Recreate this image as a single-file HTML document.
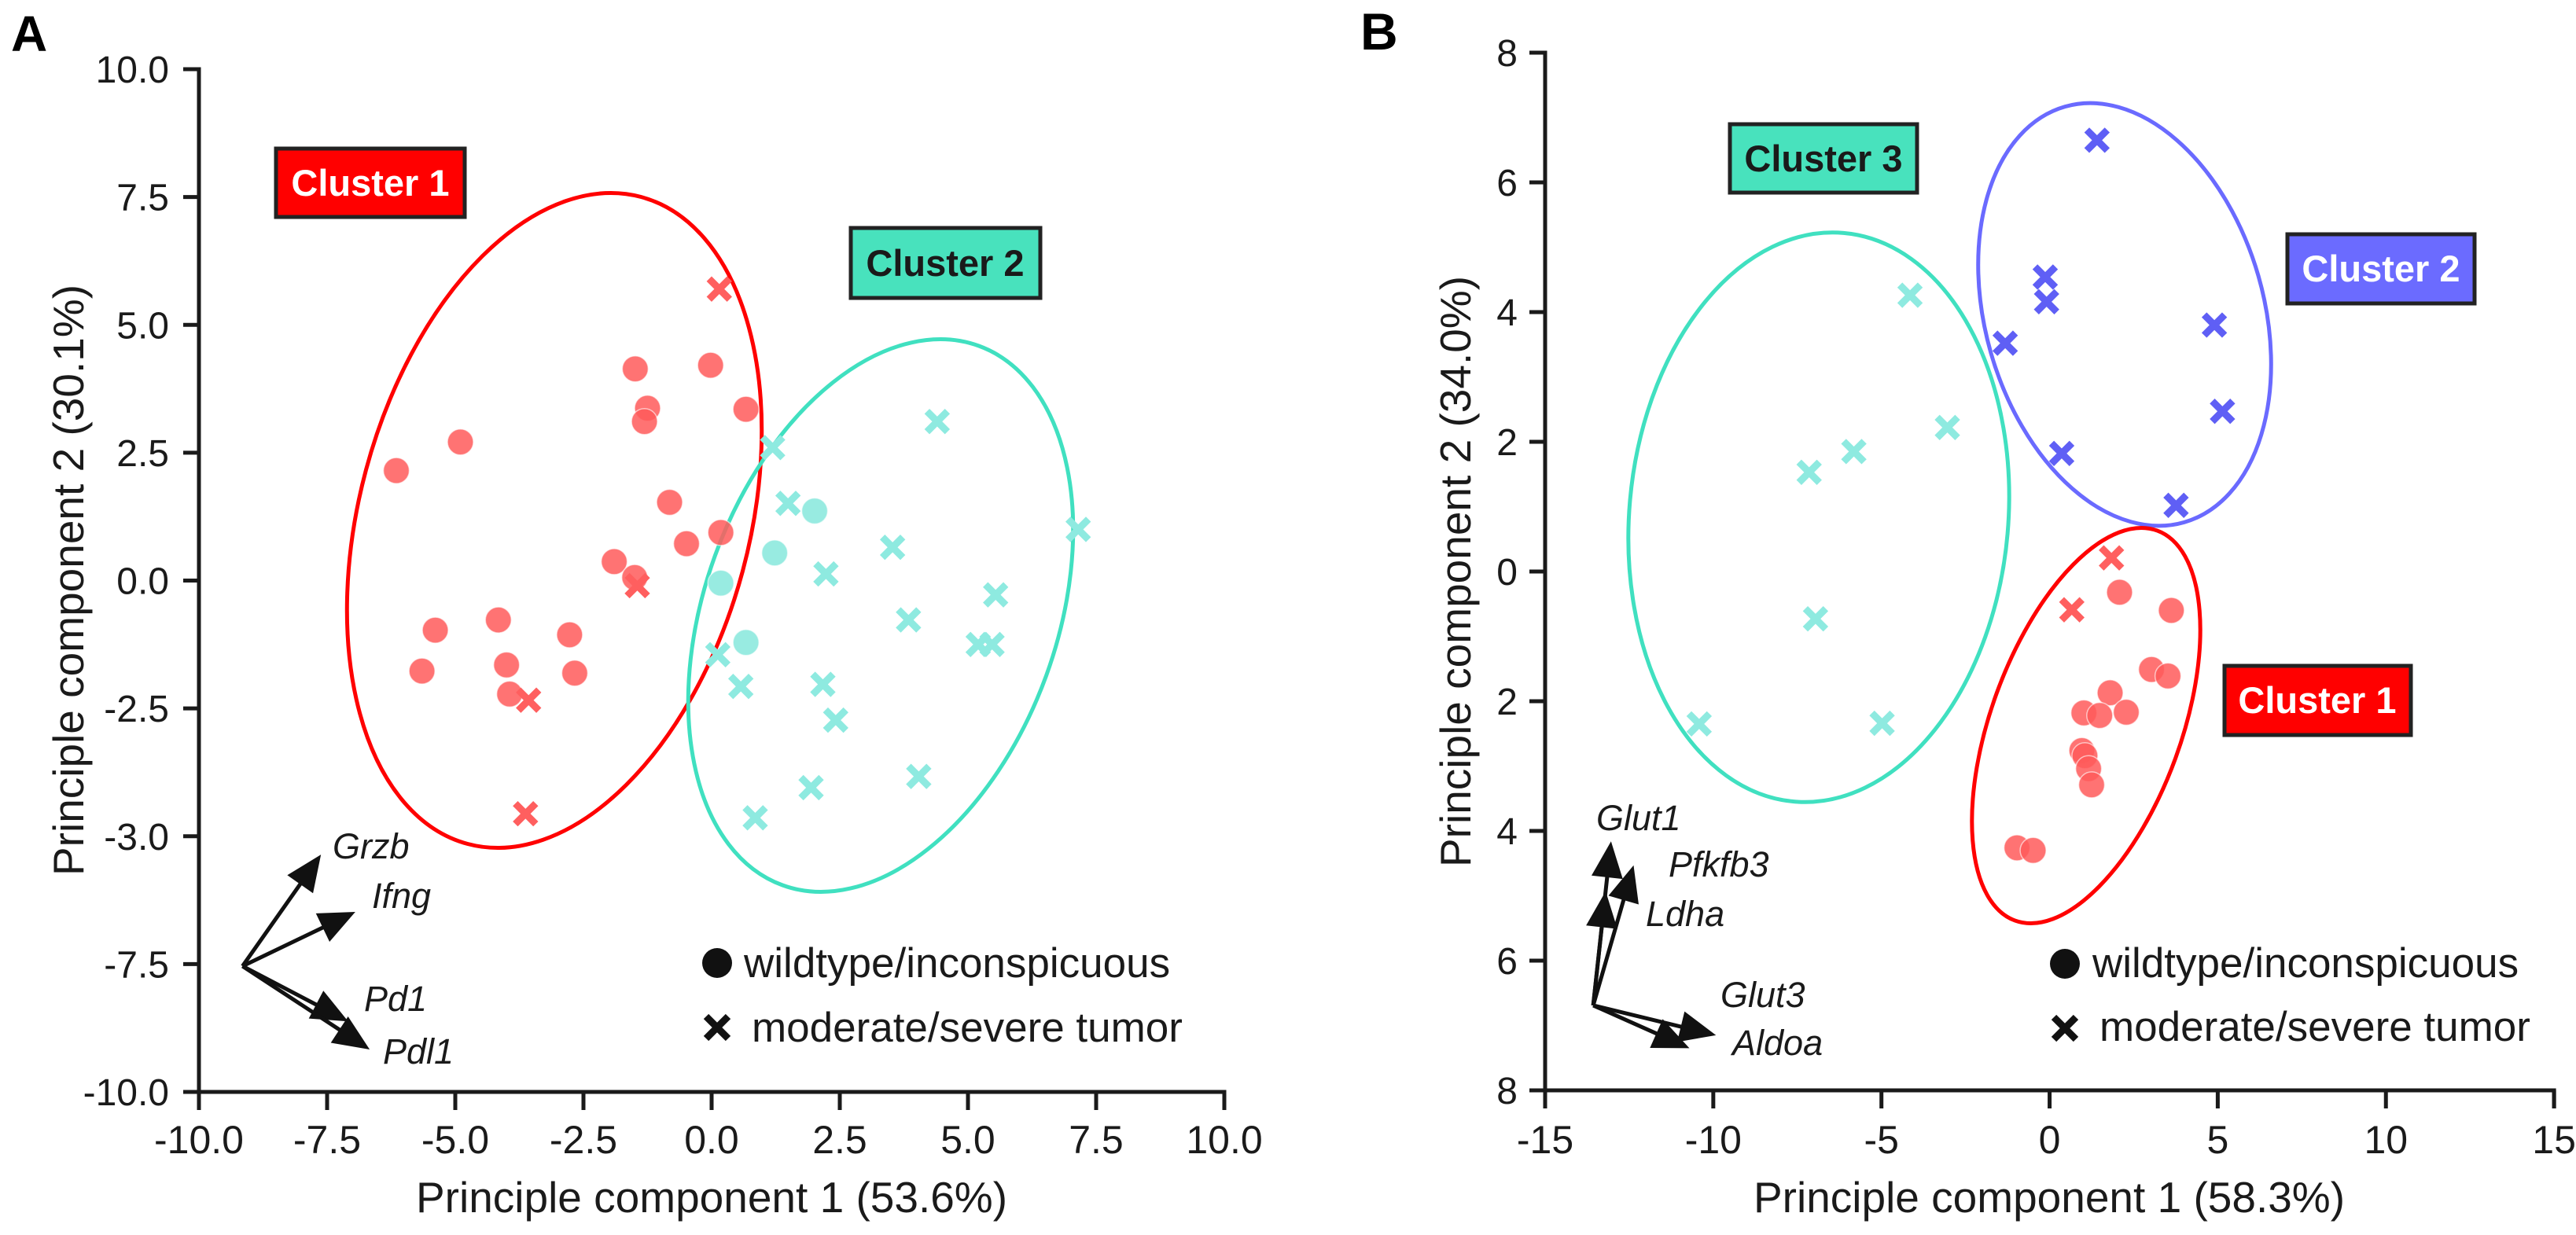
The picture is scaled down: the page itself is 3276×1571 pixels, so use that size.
<!DOCTYPE html>
<html><head><meta charset="utf-8"><style>
html,body{margin:0;padding:0;background:#fff;}
svg{display:block;font-family:"Liberation Sans",Arial,sans-serif;}
</style></head><body>
<svg id="fig" width="3276" height="1571" viewBox="0 0 3276 1571" xmlns="http://www.w3.org/2000/svg">
<g id="panelA"></g>
<g id="panelB"></g>
</svg>
<script>
// ---------- Panel A data ----------
const aXTicks = [-10, -7.5, -5, -2.5, 0, 2.5, 5, 7.5, 10];
const aXTickLabels = ["-10.0","-7.5","-5.0","-2.5","0.0","2.5","5.0","7.5","10.0"];
const aYTicks = [10, 7.5, 5, 2.5, 0, -2.5, -5, -7.5, -10];
const aYTickLabels = ["10.0","7.5","5.0","2.5","0.0","-2.5","-3.0","-7.5","-10.0"];
const aRedCircleX = [-6.15,-4.9,-1.9,-1.49,-0.02,-1.25,-1.31,0.67,-0.82,-0.49,0.18,-5.39,-4.16,-2.77,-5.65,-4.0,-2.67,-3.94,-1.5];
const aRedCircleY = [2.15,2.71,0.37,4.14,4.21,3.37,3.11,3.35,1.53,0.72,0.94,-0.97,-0.77,-1.06,-1.77,-1.65,-1.81,-2.22,0.06];
const aRedCrossX = [0.15,-1.45,-3.57,-3.63];
const aRedCrossY = [5.70,-0.10,-2.34,-4.56];
const aCyanCircleX = [2.01,1.23,0.18,0.67];
const aCyanCircleY = [1.36,0.54,-0.05,-1.21];
const aCyanCrossX = [1.19,4.40,1.49,3.53,7.15,2.23,5.54,3.84,0.12,5.2,5.47,0.57,2.17,2.42,4.04,1.94,0.85];
const aCyanCrossY = [2.60,3.11,1.51,0.65,1.0,0.13,-0.28,-0.77,-1.45,-1.25,-1.25,-2.07,-2.03,-2.73,-3.83,-4.05,-4.64];
const aArrowOrigin = [-9.15,-7.54];
const aArrowNames = ["Grzb","Ifng","Pd1","Pdl1"];
const aArrowTipX = [-7.62,-6.95,-7.09,-6.67];
const aArrowTipY = [-5.36,-6.48,-8.62,-9.17];

// ---------- Panel B data ----------
const bXTicks = [-15,-10,-5,0,5,10,15];
const bXTickLabels = ["-15","-10","-5","0","5","10","15"];
const bYTicks = [8,6,4,2,0,-2,-4,-6,-8];
const bYTickLabels = ["8","6","4","2","0","2","4","6","8"];
const bBlueCrossX = [1.41,-0.13,-0.09,-1.32,4.9,5.14,0.36,3.76];
const bBlueCrossY = [6.65,4.54,4.16,3.52,3.80,2.47,1.82,1.02];
const bCyanCrossX = [-4.15,-3.04,-5.82,-7.15,-6.96,-10.42,-4.98];
const bCyanCrossY = [4.26,2.22,1.85,1.53,-0.73,-2.35,-2.34];
const bRedCrossX = [1.84,0.66];
const bRedCrossY = [0.21,-0.59];
const bRedCircleX = [2.08,3.62,3.03,3.52,1.80,1.02,1.49,2.28,0.96,1.05,1.16,1.25,-0.97,-0.49];
const bRedCircleY = [-0.32,-0.60,-1.51,-1.61,-1.87,-2.18,-2.22,-2.17,-2.76,-2.84,-3.04,-3.29,-4.26,-4.30];
const bArrowOrigin = [-13.57,-6.69];
const bArrowNames = ["Glut1","Pfkfb3","Ldha","Glut3","Aldoa"];
const bArrowTipX = [-13.04,-12.37,-13.2,-9.92,-10.71];
const bArrowTipY = [-4.16,-4.53,-4.93,-7.15,-7.35];

const NS = "http://www.w3.org/2000/svg";
function mk(parent, tag, attrs, text) {
  const el = document.createElementNS(NS, tag);
  for (const k in attrs) el.setAttribute(k, attrs[k]);
  if (text !== undefined) el.textContent = text;
  parent.appendChild(el);
  return el;
}
const ax = x => 253 + (x + 10) * 65.2;
const ay = y => 88 + (10 - y) * 65.05;
const bx = x => 1965 + (x + 15) * 42.77;
const by = y => 67 + (8 - y) * 82.5;

function cross(g, cx, cy, color, s, w, name) {
  const grp = mk(g, "g", {});
  
  
  mk(grp, "line", {x1:cx-s,y1:cy-s,x2:cx+s,y2:cy+s,stroke:color,"stroke-width":w});
  mk(grp, "line", {x1:cx-s,y1:cy+s,x2:cx+s,y2:cy-s,stroke:color,"stroke-width":w});
}
function circle(g, cx, cy, color, name) {
  const c = mk(g, "circle", {cx:cx, cy:cy, r:16.5, fill:color, "fill-opacity":0.85, stroke:"#fff", "stroke-opacity":0.6, "stroke-width":1.5});
  
  
}
function arrow(g, ox, oy, tx, ty, name) {
  const dx = tx-ox, dy = ty-oy, len = Math.hypot(dx,dy);
  const ux = dx/len, uy = dy/len, L = 46, w = 20;
  const bxp = tx - L*ux, byp = ty - L*uy;
  const grp = mk(g, "g", {});
  
  
  mk(grp, "line", {x1:ox,y1:oy,x2:bxp+ux*4,y2:byp+uy*4,stroke:"#111","stroke-width":5});
  mk(grp, "polygon", {points:`${tx},${ty} ${bxp - w*uy},${byp + w*ux} ${bxp + w*uy},${byp - w*ux}`, fill:"#111"});
}
function axes(g, xs, ys, xt, xl, yt, yl, x0, x1, y0, y1, labRight) {
  mk(g, "path", {d:`M${xs(x0)-20},${ys(y1)} L${xs(x0)},${ys(y1)} L${xs(x0)},${ys(y0)} L${xs(x1)},${ys(y0)} L${xs(x1)},${ys(y0)+23}`, fill:"none", stroke:"#1a1a1a", "stroke-width":5});
  xt.forEach((v,i) => {
    const t = mk(g, "line", {x1:xs(v),y1:ys(y0),x2:xs(v),y2:ys(y0)+23,stroke:"#1a1a1a","stroke-width":5});
    
    
    const l = mk(g, "text", {x:xs(v), y:1467, "font-size":50, "text-anchor":"middle", fill:"#1a1a1a"}, xl[i]);
    
    
  });
  yt.forEach((v,i) => {
    const t = mk(g, "line", {x1:xs(x0)-20,y1:ys(v),x2:xs(x0),y2:ys(v),stroke:"#1a1a1a","stroke-width":5});
    
    
    const l = mk(g, "text", {x:labRight, y:ys(v)+17, "font-size":48, "text-anchor":"end", fill:"#1a1a1a"}, yl[i]);
    
    
  });
}

// ----- Panel A -----
const A = document.getElementById("panelA");
axes(A, ax, ay, aXTicks, aXTickLabels, aYTicks, aYTickLabels, -10, 10, -10, 10, 215);
let e;
e = mk(A, "ellipse", {cx:705, cy:662, rx:248, ry:426, transform:"rotate(15 705 662)", fill:"none", stroke:"#ff0000", "stroke-width":5});


e = mk(A, "ellipse", {cx:1120, cy:783, rx:224, ry:365, transform:"rotate(20 1120 783)", fill:"none", stroke:"#40e0c0", "stroke-width":5});


aCyanCrossX.forEach((v,i) => cross(A, ax(v), ay(aCyanCrossY[i]), "#8eeae0", 13, 9, "cyan-cross-point"));
aCyanCircleX.forEach((v,i) => circle(A, ax(v), ay(aCyanCircleY[i]), "#86e8dc", "cyan-circle-point"));
aRedCircleX.forEach((v,i) => circle(A, ax(v), ay(aRedCircleY[i]), "#ff5a5a", "red-circle-point"));
aRedCrossX.forEach((v,i) => cross(A, ax(v), ay(aRedCrossY[i]), "#ff5f5f", 13, 9, "red-cross-point"));
aArrowNames.forEach((n,i) => arrow(A, ax(aArrowOrigin[0]), ay(aArrowOrigin[1]), ax(aArrowTipX[i]), ay(aArrowTipY[i]), "loading-arrow-" + n.toLowerCase()));

// ----- Panel B -----
const B = document.getElementById("panelB");
axes(B, bx, by, bXTicks, bXTickLabels, bYTicks, bYTickLabels, -15, 15, -8, 8, 1930);
e = mk(B, "ellipse", {cx:2313, cy:658, rx:241, ry:363, transform:"rotate(5 2313 658)", fill:"none", stroke:"#40e0c0", "stroke-width":5});


e = mk(B, "ellipse", {cx:2702, cy:400, rx:177, ry:275, transform:"rotate(-16 2702 400)", fill:"none", stroke:"#6a6aff", "stroke-width":5});


e = mk(B, "ellipse", {cx:2653, cy:923, rx:121, ry:264, transform:"rotate(20 2653 923)", fill:"none", stroke:"#ff0000", "stroke-width":5});


bCyanCrossX.forEach((v,i) => cross(B, bx(v), by(bCyanCrossY[i]), "#8eeae0", 13, 9, "cyan-cross-point"));
bBlueCrossX.forEach((v,i) => cross(B, bx(v), by(bBlueCrossY[i]), "#5f5ff5", 13, 9, "blue-cross-point"));
bRedCircleX.forEach((v,i) => circle(B, bx(v), by(bRedCircleY[i]), "#ff5a5a", "red-circle-point"));
bRedCrossX.forEach((v,i) => cross(B, bx(v), by(bRedCrossY[i]), "#ff5f5f", 13, 9, "red-cross-point"));
bArrowNames.forEach((n,i) => arrow(B, bx(bArrowOrigin[0]), by(bArrowOrigin[1]), bx(bArrowTipX[i]), by(bArrowTipY[i]), "loading-arrow-" + n.toLowerCase()));
</script>
<script>
(function(){
const fig = document.getElementById("fig");
fig.insertAdjacentHTML("beforeend", `
<text x="14" y="65" font-size="64" font-weight="bold">A</text>
<text x="1730" y="63" font-size="66" font-weight="bold">B</text>
<text x="905" y="1542" font-size="55" text-anchor="middle" fill="#1a1a1a">Principle component 1 (53.6%)</text>
<text x="106" y="738" font-size="55" text-anchor="middle" fill="#1a1a1a" transform="rotate(-90 106 738)">Principle component 2 (30.1%)</text>
<text x="2606" y="1542" font-size="55" text-anchor="middle" fill="#1a1a1a">Principle component 1 (58.3%)</text>
<text x="1870" y="727" font-size="55" text-anchor="middle" fill="#1a1a1a" transform="rotate(-90 1870 727)">Principle component 2 (34.0%)</text>
<g><rect x="351" y="189" width="240" height="87" fill="#ff0000" stroke="#222" stroke-width="5"/><text x="471" y="249" font-size="47" font-weight="bold" fill="#fff" text-anchor="middle">Cluster 1</text></g>
<g><rect x="1082" y="290" width="241" height="89" fill="#48e2bd" stroke="#222" stroke-width="5"/><text x="1202" y="351" font-size="47" font-weight="bold" fill="#1a1a1a" text-anchor="middle">Cluster 2</text></g>
<g><rect x="2200" y="158" width="238" height="87" fill="#48e2bd" stroke="#222" stroke-width="5"/><text x="2319" y="218" font-size="47" font-weight="bold" fill="#1a1a1a" text-anchor="middle">Cluster 3</text></g>
<g><rect x="2909" y="298" width="238" height="88" fill="#6b6bff" stroke="#222" stroke-width="5"/><text x="3028" y="358" font-size="47" font-weight="bold" fill="#fff" text-anchor="middle">Cluster 2</text></g>
<g><rect x="2829" y="847" width="237" height="88" fill="#ff0000" stroke="#222" stroke-width="5"/><text x="2947" y="907" font-size="47" font-weight="bold" fill="#fff" text-anchor="middle">Cluster 1</text></g>
<g font-size="45" font-style="italic" fill="#1a1a1a">
<text x="423" y="1092">Grzb</text>
<text x="473" y="1155">Ifng</text>
<text x="463" y="1286">Pd1</text>
<text x="487" y="1353">Pdl1</text>
<text x="2030" y="1056">Glut1</text>
<text x="2122" y="1115">Pfkfb3</text>
<text x="2093" y="1178">Ldha</text>
<text x="2188" y="1281">Glut3</text>
<text x="2203" y="1342">Aldoa</text>
</g>
<g font-size="53" fill="#1a1a1a">
<circle cx="912" cy="1225" r="19" fill="#111"/>
<text x="946" y="1243">wildtype/inconspicuous</text>
<g stroke="#111" stroke-width="9"><line x1="898" y1="1293" x2="926" y2="1321"/><line x1="898" y1="1321" x2="926" y2="1293"/></g>
<text x="956" y="1325">moderate/severe tumor</text>
</g>
<g font-size="53" fill="#1a1a1a">
<circle cx="2626" cy="1226" r="19" fill="#111"/>
<text x="2661" y="1243">wildtype/inconspicuous</text>
<g stroke="#111" stroke-width="9"><line x1="2612" y1="1294" x2="2640" y2="1322"/><line x1="2612" y1="1322" x2="2640" y2="1294"/></g>
<text x="2670" y="1324">moderate/severe tumor</text>
</g>`);
})();
</script>
</body></html>
